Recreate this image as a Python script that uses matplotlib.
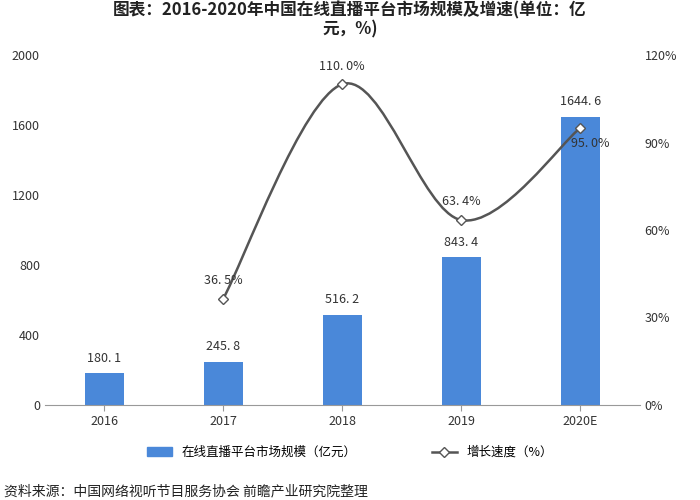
import matplotlib
matplotlib.use("Agg")
import matplotlib.pyplot as plt
import numpy as np
from matplotlib.path import Path
from matplotlib.patches import PathPatch
from matplotlib.lines import Line2D

plt.rcParams['font.family'] = ['Noto Sans CJK SC', 'DejaVu Sans']

years = ['2016', '2017', '2018', '2019', '2020E']
scale = [180.1, 245.8, 516.2, 843.4, 1644.6]
growth_years_idx = [1, 2, 3, 4]
growth = [36.5, 110.0, 63.4, 95.0]

fig = plt.figure(figsize=(7, 5), dpi=100)
ax = fig.add_axes([0.064, 0.19, 0.85, 0.70])
x = np.arange(len(years))
ax.bar(x, scale, width=0.33, color='#4a88d9', zorder=2)
for xi, v in zip(x, scale):
    ax.text(xi, v + 50, f'{v:.1f}'.replace('.', '. '), ha='center', va='bottom', fontsize=9, color='#333333')
ax.set_ylim(0, 2000)
ax.set_yticks(range(0, 2001, 400))
ax.set_xlim(-0.5, 4.5)
ax.set_xticks(x)
ax.set_xticklabels(years)
ax.tick_params(labelsize=9, colors='#333333', length=0)
for s in ['top', 'right', 'left']:
    ax.spines[s].set_visible(False)
ax.spines['bottom'].set_color('#999999')
ax.tick_params(axis='x', length=4, color='#999999', direction='out')

ax2 = ax.twinx()
ax2.set_ylim(0, 120)
ax2.set_yticks(range(0, 121, 30))
ax2.set_yticklabels([f'{t}%' for t in range(0, 121, 30)])
ax2.tick_params(labelsize=9, colors='#333333', length=0)
for s in ['top', 'right', 'left', 'bottom']:
    ax2.spines[s].set_visible(False)

px = np.array(growth_years_idx, float)
py = np.array(growth, float)
pts = np.column_stack([px, py])
ext = np.vstack([pts[0], pts, pts[-1]])
verts = [tuple(pts[0])]
codes = [Path.MOVETO]
t = 0.5
for i in range(1, len(ext) - 2):
    p0, p1, p2, p3 = ext[i-1], ext[i], ext[i+1], ext[i+2]
    c1 = p1 + (p2 - p0) * t / 3
    c2 = p2 - (p3 - p1) * t / 3
    verts += [tuple(c1), tuple(c2), tuple(p2)]
    codes += [Path.CURVE4] * 3
ax2.add_patch(PathPatch(Path(verts, codes), fill=False, edgecolor='#555555', lw=1.8, zorder=3))
ax2.plot(px, py, ls='none', marker='D', ms=5, mfc='white', mec='#555555', mew=1, zorder=4)
for i, (xi, v) in enumerate(zip(px, py)):
    lbl = f'{v:.1f}%'.replace('.', '. ')
    if i == len(px) - 1:
        ax2.text(xi + 0.08, v - 3, lbl, ha='center', va='top', fontsize=9, color='#333333', zorder=5)
    else:
        ax2.text(xi, v + 4, lbl, ha='center', va='bottom', fontsize=9, color='#333333')

h1 = plt.Rectangle((0, 0), 1, 1, color='#4a88d9')
h2 = Line2D([], [], color='#555555', lw=1.8, marker='D', ms=5, mfc='white', mec='#555555')
fig.legend([h1, h2], ['在线直播平台市场规模（亿元）', '增长速度（%）'], loc='center',
           bbox_to_anchor=(0.5, 0.095), ncol=2, frameon=False, fontsize=9, columnspacing=6)

fig.text(0.5, 0.998, '图表：2016-2020年中国在线直播平台市场规模及增速(单位：亿\n元，%)', ha='center', va='top',
         fontsize=12, fontweight='bold', color='#222222', linespacing=1.1)
fig.text(0.005, 0.01, '资料来源：中国网络视听节目服务协会 前瞻产业研究院整理', fontsize=10, color='#222222')
fig.savefig('out.png', dpi=100)
